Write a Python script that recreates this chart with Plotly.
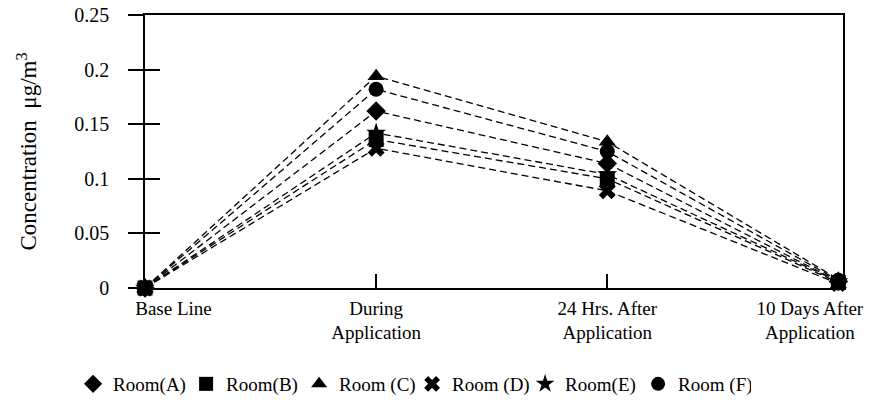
import plotly.graph_objects as go

categories = ["Base Line", "During<br>Application", "24 Hrs. After<br>Application", "10 Days After<br>Application"]
rooms = ["Room(A)", "Room(B)", "Room (C)", "Room (D)", "Room(E)", "Room (F)"]
room_a = [0.0, 0.162, 0.114, 0.006]
room_b = [0.0, 0.136, 0.100, 0.005]
room_c = [0.0, 0.194, 0.134, 0.008]
room_d = [0.0, 0.128, 0.089, 0.004]
room_e = [0.0, 0.142, 0.104, 0.006]
room_f = [0.0, 0.182, 0.125, 0.007]
symbols = ["diamond", "square", "triangle-up", "x", "star", "circle"]
y_ticks = [0, 0.05, 0.1, 0.15, 0.2, 0.25]
y_tick_labels = ["0", "0.05", "0.1", "0.15", "0.2", "0.25"]

series = [room_a, room_b, room_c, room_d, room_e, room_f]
xpos = list(range(len(categories)))
font = "Liberation Serif, Times New Roman, serif"
nb = "\u00a0"

fig = go.Figure()
for name, vals, sym in zip(rooms, series, symbols):
    fig.add_trace(go.Scatter(
        x=xpos, y=vals, mode="lines+markers", showlegend=False, cliponaxis=False,
        line=dict(color="black", width=1.3, dash="7px,4px"),
        marker=dict(symbol=sym, size=15, color="black", line=dict(width=0)),
    ))
for name, sym in zip(rooms, symbols):
    fig.add_trace(go.Scatter(
        x=[None], y=[None], mode="markers", name=name,
        marker=dict(symbol=sym, size=14, color="black"),
    ))

fig.update_layout(
    width=868, height=395,
    margin=dict(l=137, r=33, t=7, b=115, autoexpand=False),
    paper_bgcolor="white", plot_bgcolor="white",
    font=dict(family=font, color="black", size=16),
    legend=dict(orientation="h", x=0.075, xanchor="left", y=0.0, yanchor="bottom",
                xref="container", yref="container",
                font=dict(size=19), itemwidth=30, tracegroupgap=0,
                entrywidth=68, entrywidthmode="pixels"),
    xaxis=dict(range=[0, 3.02], tickvals=xpos,
               ticktext=[nb * 12 + categories[0], categories[1], categories[2],
                         "10 Days After" + nb * 12 + "<br>Application" + nb * 12],
               ticks="inside", ticklen=14, tickwidth=1.5, tickcolor="black",
               showline=True, linecolor="black", linewidth=1.5, mirror=True,
               showgrid=False, zeroline=False, tickfont=dict(size=19),
               ticklabelstandoff=2, ticklabeloverflow="allow"),
    yaxis=dict(range=[0, 0.25], tickvals=y_ticks, ticktext=y_tick_labels,
               ticks="outside", ticklen=15, tickwidth=1.5, tickcolor="black",
               showline=True, linecolor="black", linewidth=1.5, mirror=True,
               showgrid=False, zeroline=False, tickfont=dict(size=20),
               ticklabelstandoff=15, ticklabeloverflow="allow",
               title=dict(text="Concentration" + nb * 2 + "μg/m<sup>3</sup>" + nb * 5,
                          font=dict(size=23), standoff=31)),
    yaxis2=dict(range=[0, 0.25], tickvals=y_ticks, overlaying="y", side="left",
                ticks="inside", ticklen=15, tickwidth=1.5, tickcolor="black",
                showticklabels=False, showgrid=False, zeroline=False, showline=False),
)
fig.add_trace(go.Scatter(x=[None], y=[None], yaxis="y2", showlegend=False))

fig.write_html("out.html")
